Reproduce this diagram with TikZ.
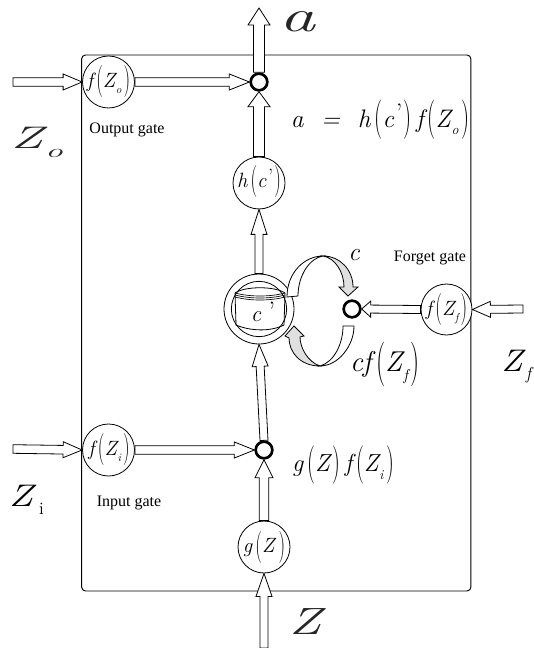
\documentclass[tikz,border=0pt]{standalone}
\usepackage{fontspec}
\usepackage{graphicx}
\newfontfamily\gatefont{Liberation Serif}
\usetikzlibrary{calc}
\newcommand{\lp}{\kern0.16em\raisebox{-0.11em}{\scalebox{0.9}[1.55]{\normalfont (}}}
\newcommand{\rp}{\raisebox{-0.11em}{\scalebox{0.9}[1.55]{\normalfont )}}}
\newcommand{\sub}[1]{\kern0.03em\raisebox{-0.3em}{\scalebox{0.55}{#1}}\kern0.1em}
\newcommand{\prm}{\kern0.08em\raisebox{0.2em}{\normalfont ’}\kern0.05em}
\newcommand{\fs}[1]{\fontsize{#1}{#1}\selectfont}
\newcommand{\blockarrow}[5]{%
  \coordinate (ba) at ($(#2)!#5*0.75pt!(#1)$);
  \draw[blockline]
    ($(#1)!#3*0.75pt!90:(#2)$) -- ($(ba)!#3*0.75pt!90:(#2)$) --
    ($(ba)!#4*0.75pt!90:(#2)$) -- (#2) --
    ($(ba)!#4*0.75pt!-90:(#2)$) -- ($(ba)!#3*0.75pt!-90:(#2)$) --
    ($(#1)!#3*0.75pt!-90:(#2)$) -- cycle;}
\tikzset{
  blockline/.style={draw=black,fill=white,line width=0.6pt,line join=miter},
  gatecircle/.style={circle,draw=black,fill=white,line width=0.6pt,minimum size=39pt,inner sep=0pt},
  junction/.style={circle,draw=black,fill=white,line width=2pt,minimum size=12.5pt,inner sep=0pt},
  boxlabel/.style={inner sep=0pt,font=\gatefont\fs{12}},
  mathlabel/.style={inner sep=0pt,font=\fs{15.5}\itshape},
  biglabel/.style={inner sep=0pt,font=\fs{23.4}\itshape,text=black},
  widelabel/.style={biglabel,text=black!85},
  curvearm/.style={draw=black,line width=0.6pt,fill=white},
  curvehead/.style={draw=black,line width=0.6pt,fill=black!12},
}
\begin{document}
\begin{tikzpicture}[x=0.75pt,y=-0.75pt]
\useasboundingbox (0,0) rectangle (533,648);
% frame
\node[draw=black,line width=0.7pt,rounded corners=3pt,minimum width=292pt,minimum height=402pt,inner sep=0pt] (frame) at (276.25,323) {};
% free ends
\coordinate (zoin) at (13,82);
\coordinate (ziin) at (13,449);
\coordinate (zfin) at (523,309);
\coordinate (zin) at (264,648);
\coordinate (aout) at (259,8);
% nodes
\node[gatecircle] (fo) at (108.5,82) {};
\node[gatecircle] (fi) at (108.5,450) {};
\node[gatecircle,minimum size=38.25pt] (ff) at (446.5,309.5) {};
\node[gatecircle] (g) at (264,547) {};
\node[gatecircle] (h) at (259,183) {};
\node[circle,draw=black,fill=white,line width=0.6pt,minimum size=52.5pt,inner sep=0pt] (cell) at (259,309) {};
\node[circle,draw=black,fill=white,line width=0.6pt,minimum size=41.5pt,inner sep=0pt] (cellin) at (259,309) {};
\node[junction] (jo) at (259,82) {};
\node[junction] (ji) at (264,450) {};
\node[junction] (jf) at (352,309) {};
% connectors
\blockarrow{jo.north}{aout}{5.5}{11}{17}
\blockarrow{zoin}{fo.west}{4.3}{8}{19}
\blockarrow{fo.east}{jo.west}{4.3}{8}{20}
\blockarrow{h.north}{jo.south}{5.5}{11}{15}
\blockarrow{cell.north}{h.south}{4}{8}{25}
\blockarrow{ji.north}{cell.south}{4}{8}{22}
\blockarrow{ziin}{fi.west}{4.3}{8}{19}
\blockarrow{fi.east}{ji.west}{4.3}{8}{20}
\blockarrow{g.north}{ji.south}{4.7}{9}{18}
\blockarrow{zin}{g.south}{4}{8}{23}
\blockarrow{ff.west}{jf.east}{4}{8}{9}
\blockarrow{zfin}{ff.east}{4}{8}{18}
% curved arrow c' to junction
\draw[curvearm] (287,297) .. controls (287,272) and (305,256) .. (323,256)
   .. controls (310,258) and (298,275) .. (298,296) -- cycle;
\draw[curvehead] (323,256) .. controls (340,256) and (353,270) .. (353,287)
   -- (358,287) -- (348,296) -- (339,287) -- (344,287)
   .. controls (344,272) and (335,258) .. (323,256) -- cycle;
% curved arrow junction to c'
\draw[curvearm] (354,326) .. controls (354,346) and (338,366) .. (320,366)
   .. controls (334,362) and (343,344) .. (343,326) -- cycle;
\draw[curvehead] (320,366) .. controls (300,366) and (289,352) .. (289,338)
   -- (285,336) -- (294,326) -- (304,336) -- (300,337)
   .. controls (300,348) and (308,362) .. (320,366) -- cycle;
% cylinder
\draw[line width=0.6pt] (235,293) -- (236,325) .. controls (250,331) and (270,332) .. (284,325) -- (285,293);
\draw[line width=0.6pt] (235,293) .. controls (245,286) and (275,286) .. (285,293);
\draw[line width=0.5pt] (235,293) .. controls (250,297) and (270,297) .. (285,293);
\draw[line width=0.5pt] (235,295) .. controls (250,299) and (270,299) .. (285,295);
\draw[line width=0.5pt] (235,297) .. controls (250,301) and (270,301) .. (285,297);
% labels
\node[mathlabel,font=\fs{17}\itshape] (tc) at (256,317) {c};
\node[mathlabel,font=\fs{20}\normalfont] (tcp) at (272,311) {’};
\node[mathlabel] (tfo) at (108.5,82) {f\lp Z\sub{o}\rp};
\node[mathlabel] (tfi) at (109,450) {f\lp Z\sub{i}\rp};
\node[mathlabel] (tff) at (446.5,309.5) {f\lp Z\sub{f}\rp};
\node[mathlabel] (tg) at (264,547) {g\lp Z\kern0.2em\rp};
\node[mathlabel] (th) at (259,182) {h\lp c\prm\rp};
\node[mathlabel,font=\fs{19}\itshape] (teq) at (380,120) {a\ \ =\ \ h\lp c\prm\rp\,f\lp Z\sub{o}\rp};
\node[mathlabel,font=\fs{18.5}\itshape] (tgf) at (343,465) {g\lp Z\kern0.12em\rp\,f\lp Z\sub{i}\rp};
\node[mathlabel,font=\fs{19}\itshape] (tcl) at (354,255) {c};
\node[mathlabel,font=\fs{21.5}\itshape] (tcf) at (385,364) {cf\lp Z\sub{f}\rp};
\node[boxlabel] (lo) at (127,130) {Output gate};
\node[boxlabel] (li) at (129,503) {Input gate};
\node[boxlabel] (lf) at (430,258) {Forget gate};
\node[widelabel,font=\fs{26}\itshape] (ta) at (297,22) {\scalebox{2.07}[1.31]{a}};
\node[widelabel,anchor=west] (tzo) at (10.5,138) {\scalebox{1.7}[1]{Z}};
\node[widelabel,font=\fs{14}\itshape] (tzos) at (54,153) {\scalebox{1.9}[1]{o}};
\node[biglabel,anchor=west] (tzi) at (8.7,496) {\scalebox{1.28}[1]{Z}};
\node[font=\fs{13},inner sep=0pt] (tzis) at (41.5,509) {i};
\node[biglabel,anchor=west] (tzf) at (501,361) {\scalebox{1.13}[1]{Z}};
\node[biglabel,font=\fs{13}\itshape] (tzfs) at (528.5,375) {f};
\node[widelabel,font=\fs{28.5}\itshape] (tz) at (305.5,622) {\scalebox{1.4}[1]{Z}};
\end{tikzpicture}
\end{document}
